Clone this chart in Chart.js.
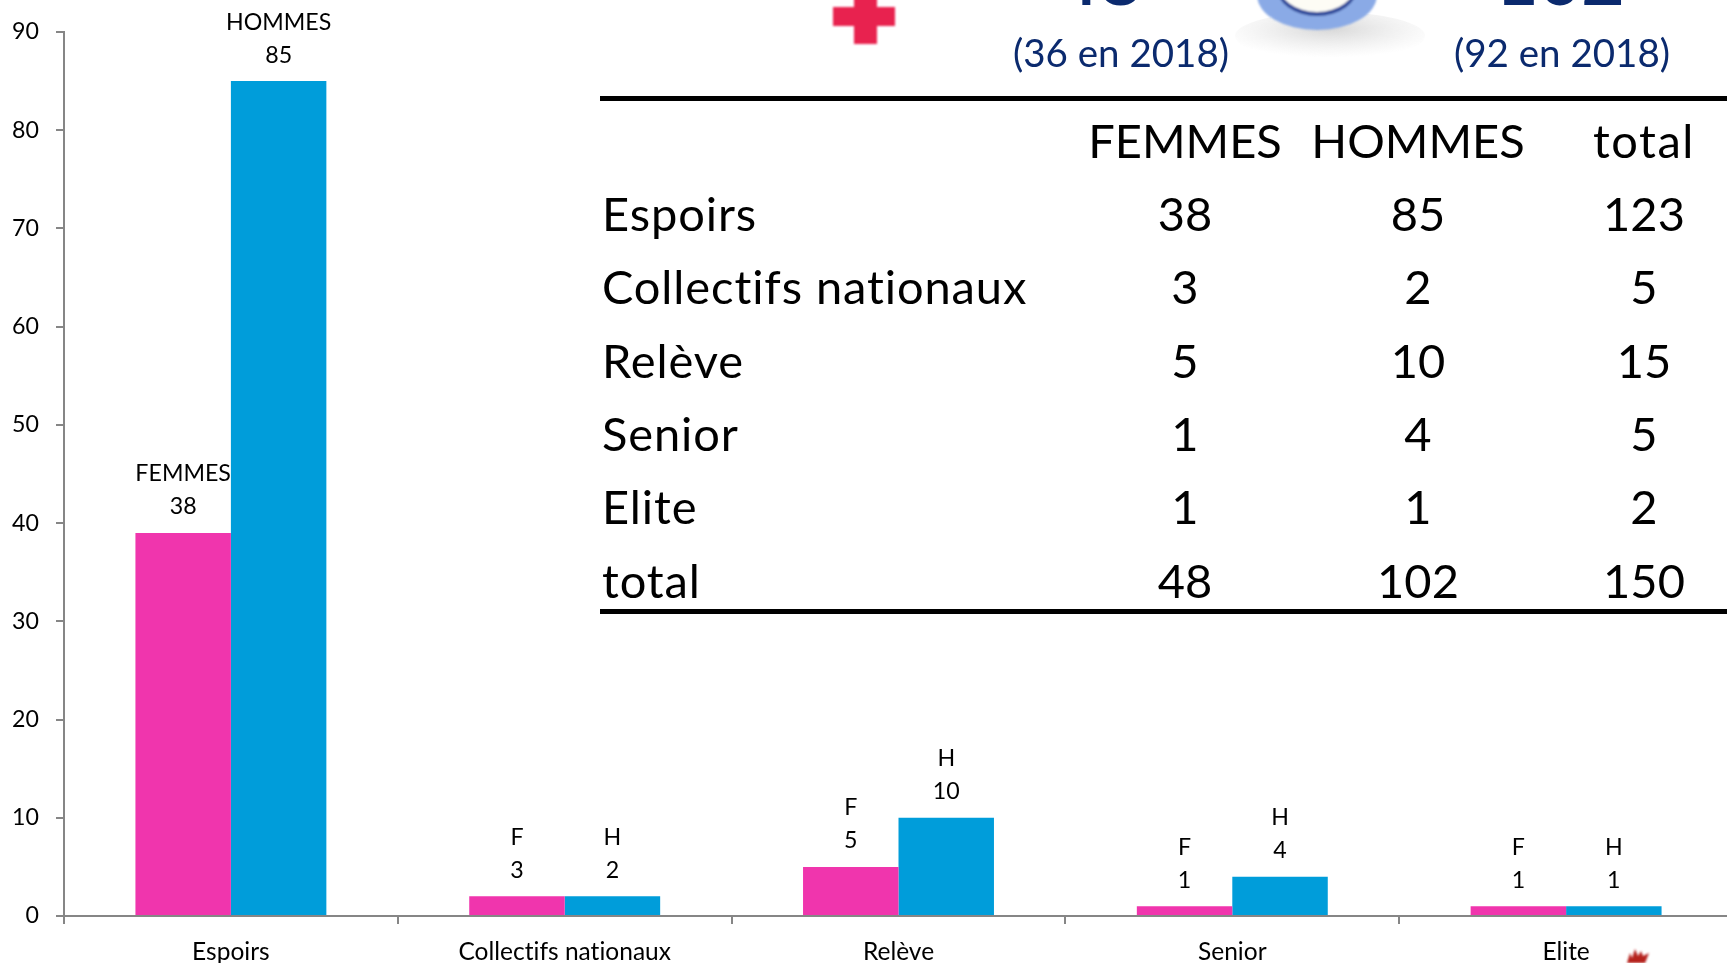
<!DOCTYPE html>
<html lang="fr"><head><meta charset="utf-8">
<script src="https://cdn.jsdelivr.net/npm/chart.js@4"></script>
<style>
html,body{margin:0;padding:0;background:#fff;width:1727px;height:963px;overflow:hidden;font-family:Lato,sans-serif;font-variant-ligatures:none}
#wrap{position:relative;width:1727px;height:963px;overflow:hidden}
canvas#c{position:absolute;left:0;top:0}
.t{position:absolute;white-space:nowrap;line-height:1;transform:translate(-50%,-50%);color:#000;font-size:47px}
.l{transform:translate(0,-50%)}
.navy{color:#0b2a6e}
.rule{position:absolute;left:600px;right:0;height:5px;background:#000}
.deco{position:absolute}
</style></head><body>
<div id="wrap">
<canvas id="c" width="1733" height="963"></canvas>
<div class="rule" style="top:96px"></div>
<div class="rule" style="top:609px"></div>
<svg class="deco" style="left:0;top:0" width="1727" height="963">
<defs>
<radialGradient id="sh" cx="50%" cy="35%" r="60%"><stop offset="0%" stop-color="#b0b0b0" stop-opacity=".5"/><stop offset="100%" stop-color="#ccc" stop-opacity="0"/></radialGradient>
<filter id="soft"><feGaussianBlur stdDeviation="0.8"/></filter>
</defs>
<ellipse cx="1330" cy="36" rx="95" ry="24" fill="url(#sh)"/>
<g filter="url(#soft)">
<path d="M854 -4h23v11h18v19h-18v18h-23v-18h-21v-19h21z" fill="#e8204f"/>
<ellipse cx="1317" cy="-5" rx="60" ry="35" fill="#8aaae6"/>
<ellipse cx="1317" cy="-14" rx="41" ry="30" fill="#2d4a9a"/>
<ellipse cx="1317" cy="-17" rx="39" ry="29" fill="#fdfcf5"/>
<path d="M1627 963l3-10 2 5 3-9 3 7 3-5 2 5 6-3-4 10z" fill="#b5201e"/>
</g>
</svg>
</div>
<script>
const categories=['Espoirs','Collectifs nationaux','Relève','Senior','Elite'];
const femmesBars=[39,2,5,1,1];
const hommesBars=[85,2,10,4,1];
const femmesLabels=['38','3','5','1','1'];
const hommesLabels=['85','2','10','4','1'];
const femmesNames=['FEMMES','F','F','F','F'];
const hommesNames=['HOMMES','H','H','H','H'];
const yTicks=[0,10,20,30,40,50,60,70,80,90];
const tableHeader=['FEMMES','HOMMES','total'];
const tableRows=['Espoirs','Collectifs nationaux','Relève','Senior','Elite','total'];
const tableFemmes=[38,3,5,1,1,48];
const tableHommes=[85,2,10,4,1,102];
const tableTotal=[123,5,15,5,2,150];
const summary=[{big:'48',sub:'(36 en 2018)',bigX:1099,subX:1121},{big:'102',sub:'(92 en 2018)',bigX:1560,subX:1562}];

const FONT='Lato, sans-serif';
const wrap=document.getElementById('wrap');
function addText(txt,x,y,cls,style){const d=document.createElement('div');d.className='t '+(cls||'');d.textContent=txt;d.style.left=x+'px';d.style.top=y+'px';if(style)Object.assign(d.style,style);wrap.appendChild(d);}
const colX=[1185,1418,1644];
const rowY=[213,286,360,433,506,580];
tableHeader.forEach((h,i)=>addText(h,colX[i],140,'',i===2?{letterSpacing:'1.5px'}:null));
tableRows.forEach((r,i)=>{
  addText(r,602,rowY[i],'l',{letterSpacing:'0.9px'});
  addText(String(tableFemmes[i]),colX[0],rowY[i]);
  addText(String(tableHommes[i]),colX[1],rowY[i]);
  addText(String(tableTotal[i]),colX[2],rowY[i]);
});
summary.forEach(s=>{
  addText(s.sub,s.subX,52,'navy',{fontSize:'38.5px'});
  addText(s.big,s.bigX,-23,'navy',{fontSize:'74px',fontWeight:'700'});
});

const barLabels={id:'barLabels',afterDatasetsDraw(chart){
  const c=chart.ctx;c.save();c.fillStyle='#000';c.font='23.2px '+FONT;c.textAlign='center';c.textBaseline='middle';
  [[0,femmesNames,femmesLabels],[1,hommesNames,hommesLabels]].forEach(([d,names,vals])=>{
    chart.getDatasetMeta(d).data.forEach((el,i)=>{
      c.fillText(vals[i],el.x,el.y-26);
      c.fillText(names[i],el.x,el.y-59);
    });
  });
  c.restore();
}};
const ligatureOff={id:'ligatureOff',beforeDraw(chart){chart.ctx.letterSpacing='0.01px';}};
new Chart(document.getElementById('c'),{
  type:'bar',
  data:{labels:categories,datasets:[
    {label:'FEMMES',data:femmesBars,backgroundColor:'#f035ad',categoryPercentage:0.572,barPercentage:1},
    {label:'HOMMES',data:hommesBars,backgroundColor:'#009dda',categoryPercentage:0.572,barPercentage:1}
  ]},
  options:{
    responsive:false,animation:false,
    layout:{padding:{top:32,right:0,bottom:0,left:0}},
    plugins:{legend:{display:false},title:{display:false},tooltip:{enabled:false}},
    scales:{
      x:{
        afterFit(s){s.height=47;},
        border:{color:'#868686',width:2},
        grid:{drawOnChartArea:false,drawTicks:true,tickLength:8,color:'#868686',lineWidth:2},
        ticks:{color:'#000',font:{family:FONT,size:24.5},padding:13,maxRotation:0,autoSkip:false}
      },
      y:{
        min:0,max:90,
        afterFit(s){s.width=64;},
        afterBuildTicks(s){s.ticks=yTicks.map(v=>({value:v}));},
        border:{color:'#868686',width:2},
        grid:{drawOnChartArea:false,drawTicks:true,tickLength:8,color:'#868686',lineWidth:2},
        ticks:{color:'#000',font:{family:FONT,size:23.2},padding:17}
      }
    }
  },
  plugins:[ligatureOff,barLabels]
});
</script>
</body></html>
